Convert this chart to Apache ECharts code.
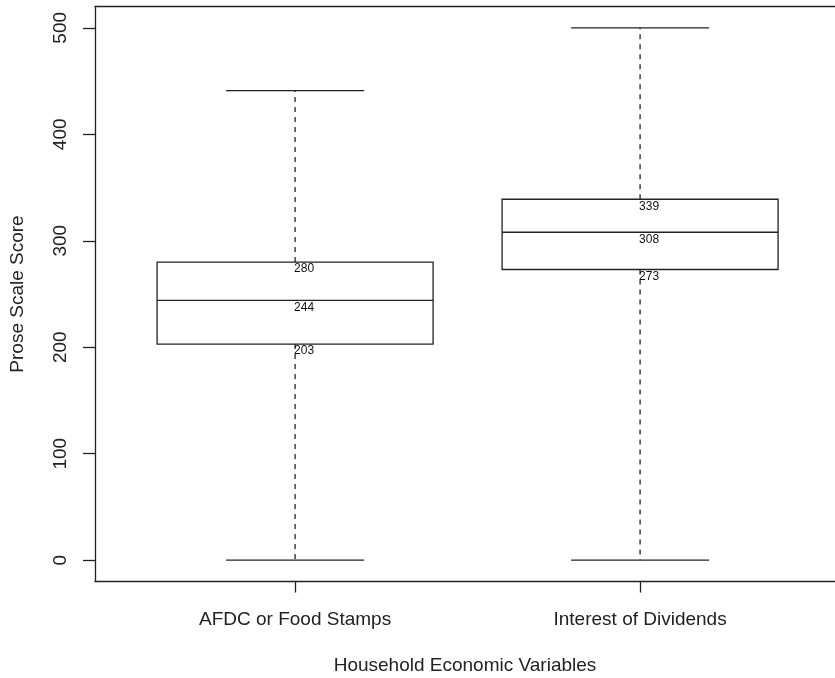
<!DOCTYPE html>
<html><head><meta charset="utf-8">
<script src="https://cdn.jsdelivr.net/npm/echarts@6/dist/echarts.min.js"></script>
<style>html,body{margin:0;padding:0;background:#fff}#c{width:835px;height:678px}</style>
</head><body><div id="c"></div>
<script>
const categories = ['AFDC or Food Stamps', 'Interest of Dividends'];
const xPositions = [1, 2];
const mins = [0, 0];
const q1s = [203, 273];
const medians = [244, 308];
const q3s = [280, 339];
const maxs = [441, 500];
const yTicks = [0, 100, 200, 300, 400, 500];

const boxData = xPositions.map((x, i) => [x, mins[i], q1s[i], medians[i], q3s[i], maxs[i]]);
const FONT = '"Liberation Sans", Arial, sans-serif';
const INK = '#222';
const X_MIN = 0.42, X_MAX = 2.565;

function renderItem(params, api) {
  const x = api.value(0);
  const lo = api.value(1), q1 = api.value(2), med = api.value(3), q3 = api.value(4), hi = api.value(5);
  const cx = api.coord([x, med])[0];
  const left = api.coord([x - 0.4, med])[0];
  const right = api.coord([x + 0.4, med])[0];
  const capL = api.coord([x - 0.2, med])[0];
  const capR = api.coord([x + 0.2, med])[0];
  const yLo = api.coord([x, lo])[1];
  const yQ1 = api.coord([x, q1])[1];
  const yMed = api.coord([x, med])[1];
  const yQ3 = api.coord([x, q3])[1];
  const yHi = api.coord([x, hi])[1];
  const solid = { stroke: INK, lineWidth: 1.3, fill: null };
  const dashed = { stroke: INK, lineWidth: 1.3, lineDash: [5, 5], fill: null };
  const label = (v, y) => ({
    type: 'text',
    style: { text: String(v), x: cx - 1, y: y + 1, fill: '#111', font: '12px ' + FONT, textAlign: 'left', textVerticalAlign: 'top' }
  });
  return {
    type: 'group',
    children: [
      { type: 'line', shape: { x1: cx, y1: yQ3, x2: cx, y2: yHi }, style: dashed },
      { type: 'line', shape: { x1: cx, y1: yQ1, x2: cx, y2: yLo }, style: dashed },
      { type: 'line', shape: { x1: capL, y1: yHi, x2: capR, y2: yHi }, style: solid },
      { type: 'line', shape: { x1: capL, y1: yLo, x2: capR, y2: yLo }, style: solid },
      { type: 'rect', shape: { x: left, y: yQ3, width: right - left, height: yQ1 - yQ3 }, style: solid },
      { type: 'line', shape: { x1: left, y1: yMed, x2: right, y2: yMed }, style: solid },
      label(q3, yQ3),
      label(med, yMed),
      label(q1, yQ1)
    ]
  };
}

const lineStyle = { color: INK, width: 1.3 };
const chart = echarts.init(document.getElementById('c'), null, { renderer: 'canvas' });
chart.setOption({
  animation: false,
  backgroundColor: '#fff',
  grid: { left: 95, top: 6.5, right: 0, height: 575, show: false, outerBoundsMode: 'none', containLabel: false },
  xAxis: [{
    type: 'value', min: X_MIN, max: X_MAX, position: 'bottom',
    splitLine: { show: false },
    axisLine: { show: true, onZero: false, lineStyle: lineStyle },
    axisTick: { show: true, customValues: xPositions, length: 11, lineStyle: lineStyle },
    axisLabel: {
      customValues: xPositions, margin: 29, color: INK, fontSize: 19, fontFamily: FONT,
      formatter: v => categories[xPositions.indexOf(Math.round(v))] || ''
    },
    name: 'Household Economic Variables', nameLocation: 'middle', nameGap: 75,
    nameTextStyle: { color: INK, fontSize: 19, fontFamily: FONT }
  }, {
    type: 'value', min: X_MIN, max: X_MAX, position: 'top',
    splitLine: { show: false },
    axisLine: { show: true, onZero: false, lineStyle: lineStyle },
    axisTick: { show: false },
    axisLabel: { show: false }
  }],
  yAxis: {
    type: 'value', min: -20, max: 520,
    splitLine: { show: false },
    axisLine: { show: true, onZero: false, lineStyle: lineStyle },
    axisTick: { show: true, customValues: yTicks, length: 12, lineStyle: lineStyle },
    axisLabel: { customValues: yTicks, rotate: 90, margin: 25, color: INK, fontSize: 19, fontFamily: FONT },
    name: 'Prose Scale Score', nameLocation: 'middle', nameGap: 68,
    nameTextStyle: { color: INK, fontSize: 19, fontFamily: FONT }
  },
  series: [{
    type: 'custom',
    renderItem: renderItem,
    data: boxData,
    encode: { x: 0, y: [1, 2, 3, 4, 5] },
    clip: false
  }]
});
</script>
</body></html>
